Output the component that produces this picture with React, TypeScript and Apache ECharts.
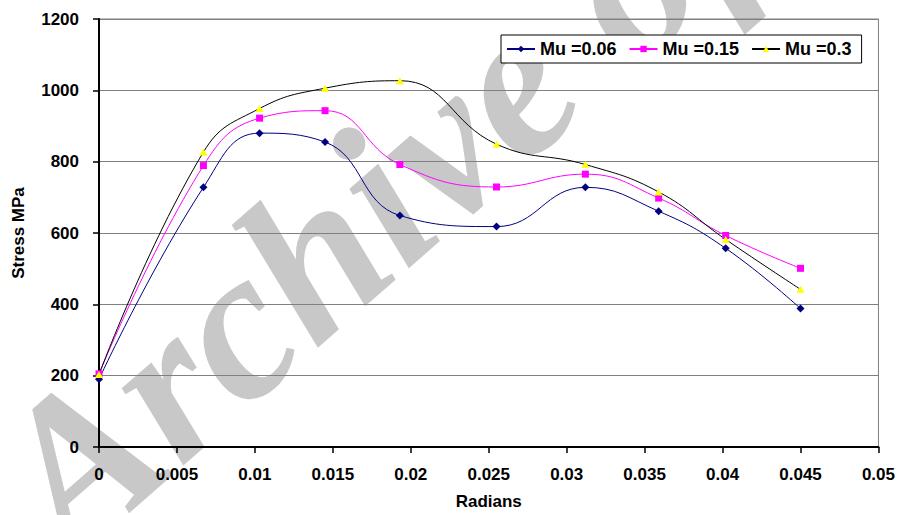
import React, { useEffect, useRef } from "react";
import * as echarts from "echarts";

const radians = [0, 0.0067, 0.0103, 0.0145, 0.0193, 0.0255, 0.0312, 0.0359, 0.0402, 0.045];
const mu006 = [190, 728, 880, 855, 649, 618, 728, 661, 557, 388];
const mu015 = [205, 789, 922, 943, 792, 729, 765, 698, 593, 501];
const mu03 = [203, 827, 949, 1006, 1027, 849, 792, 715, 582, 442];
const seriesNames = ["Mu =0.06", "Mu =0.15", "Mu =0.3"];
const xTickLabels = ["0", "0.005", "0.01", "0.015", "0.02", "0.025", "0.03", "0.035", "0.04", "0.045", "0.05"];
const yTickLabels = ["0", "200", "400", "600", "800", "1000", "1200"];
const watermark = "Archive of SID";

const FONT = '"Liberation Sans", Arial, sans-serif';

function pairs(ys: number[]) {
  return radians.map((x, i) => [x, ys[i]]);
}

export default function App() {
  const ref = useRef<HTMLDivElement>(null);
  useEffect(() => {
    if (!ref.current) return;
    const chart = echarts.init(ref.current, undefined, { renderer: "svg" });
    const labelStyle = { fontFamily: FONT, fontWeight: "bold" as const, fontSize: 17, color: "#000" };
    chart.setOption({
      animation: false,
      backgroundColor: "#fff",
      graphic: [
        {
          type: "text",
          x: 95,
          y: 589,
          rotation: 0.72,
          z: -1,
          silent: true,
          style: {
            text: watermark,
            font: 'italic bold 215px "Liberation Serif", "Times New Roman", serif',
            fill: "#c8c8c8",
            textAlign: "left",
            textVerticalAlign: "bottom",
          },
        },
      ],
      grid: {
        left: 99,
        top: 19,
        right: 18,
        bottom: 67,
        show: true,
        borderColor: "#808080",
        borderWidth: 1,
        backgroundColor: "transparent",
      },
      legend: {
        data: seriesNames,
        left: 501,
        top: 35,
        orient: "horizontal",
        backgroundColor: "#fff",
        borderColor: "#000",
        borderWidth: 1,
        padding: [5, 10, 5, 5],
        itemGap: 12,
        itemWidth: 28,
        itemHeight: 8,
        textStyle: { ...labelStyle, fontSize: 18 },
      },
      xAxis: {
        type: "value",
        min: 0,
        max: 0.05,
        interval: 0.005,
        name: "Radians",
        nameLocation: "middle",
        nameGap: 46,
        nameTextStyle: labelStyle,
        axisLine: { show: true, onZero: false, lineStyle: { color: "#000", width: 2 } },
        axisTick: { show: true, inside: false, length: 6, lineStyle: { color: "#000", width: 1.5 } },
        axisLabel: {
          ...labelStyle,
          margin: 19,
          formatter: (v: number) => xTickLabels[Math.round(v / 0.005)] ?? "",
        },
        splitLine: { show: false },
      },
      yAxis: {
        type: "value",
        min: 0,
        max: 1200,
        interval: 200,
        name: "Stress MPa",
        nameLocation: "middle",
        nameRotate: 90,
        nameGap: 72,
        nameTextStyle: labelStyle,
        axisLine: { show: true, onZero: false, lineStyle: { color: "#000", width: 2 } },
        axisTick: { show: true, inside: false, length: 6, lineStyle: { color: "#000", width: 1.5 } },
        axisLabel: {
          ...labelStyle,
          margin: 20,
          formatter: (v: number) => yTickLabels[Math.round(v / 200)] ?? "",
        },
        splitLine: { show: true, lineStyle: { color: "#808080", width: 1 } },
      },
      series: [
        {
          name: seriesNames[0],
          type: "line",
          data: pairs(mu006),
          smooth: 0.45,
          symbol: "diamond",
          symbolSize: 8,
          lineStyle: { color: "#000080", width: 1 },
          itemStyle: { color: "#000080" },
        },
        {
          name: seriesNames[1],
          type: "line",
          data: pairs(mu015),
          smooth: 0.45,
          symbol: "rect",
          symbolSize: 7,
          lineStyle: { color: "#ff00ff", width: 1 },
          itemStyle: { color: "#ff00ff" },
        },
        {
          name: seriesNames[2],
          type: "line",
          data: pairs(mu03),
          smooth: 0.45,
          symbol: "triangle",
          symbolSize: [8, 7],
          lineStyle: { color: "#000", width: 1 },
          itemStyle: { color: "#ffff00" },
        },
      ],
    });
    return () => chart.dispose();
  }, []);
  return (
    <div
      ref={ref}
      style={{ position: "fixed", left: 0, top: 0, width: 898, height: 515 }}
    />
  );
}
